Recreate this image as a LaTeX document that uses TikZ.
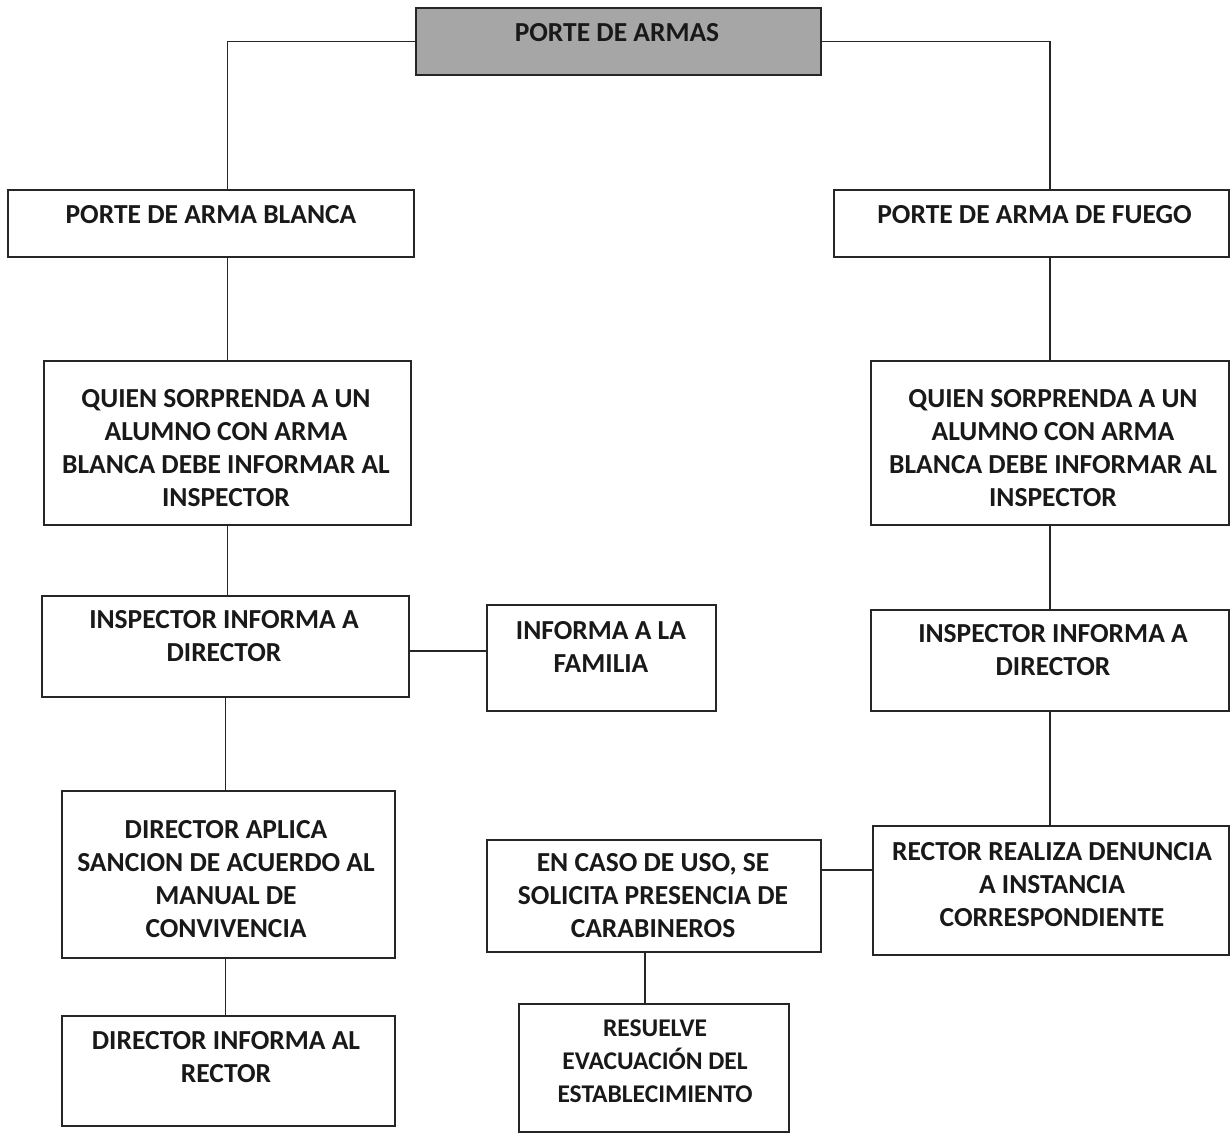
\documentclass[tikz,border=0pt]{standalone}
\usepackage{fontspec}
\setmainfont{Carlito}
\definecolor{boxgray}{HTML}{A6A6A6}
\definecolor{lin}{HTML}{262626}
\tikzset{
  box/.style={draw=lin, line width=1.6pt, rectangle, inner sep=0pt},
  txt/.style={align=center, font=\bfseries\fontsize{27.5}{33}\selectfont, inner sep=0pt, text=black!90},
  small/.style={align=center, font=\bfseries\fontsize{25.5}{33}\selectfont, inner sep=0pt, text=black!90},
  conn/.style={draw=lin, line width=1.6pt}
}
\begin{document}
\begin{tikzpicture}[x=1pt,y=-1pt]
\useasboundingbox[fill=white] (0,0) rectangle (1230,1134);
% boxes
\node[box, fill=boxgray, minimum width=405pt, minimum height=67pt] (top) at (618.5,41.5) {};
\node[box, minimum width=406pt, minimum height=67pt] (blanca) at (211,223.5) {};
\node[box, minimum width=395pt, minimum height=67pt] (fuego) at (1031.5,223.5) {};
\node[box, minimum width=367pt, minimum height=164pt] (quienL) at (227.5,443) {};
\node[box, minimum width=358pt, minimum height=164pt] (quienR) at (1050,443) {};
\node[box, minimum width=367pt, minimum height=101pt] (inspL) at (225.5,646.5) {};
\node[box, minimum width=229pt, minimum height=106pt] (fam) at (601.5,658) {};
\node[box, minimum width=358pt, minimum height=101pt] (inspR) at (1050,660.5) {};
\node[box, minimum width=333pt, minimum height=167pt] (dirA) at (228.5,874.5) {};
\node[box, minimum width=334pt, minimum height=112pt] (caso) at (654,896) {};
\node[box, minimum width=356pt, minimum height=129pt] (rector) at (1051,890.5) {};
\node[box, minimum width=333pt, minimum height=110pt] (dirI) at (228.5,1071) {};
\node[box, minimum width=270pt, minimum height=128pt] (resuelve) at (654,1068) {};
% texts
\node[txt] (ttop) at (617,33) {PORTE DE ARMAS};
\node[txt] (tblanca) at (211,215) {PORTE DE ARMA BLANCA};
\node[txt] (tfuego) at (1034.5,215) {PORTE DE ARMA DE FUEGO};
\node[txt] (tquienL) at (226,448.5) {QUIEN SORPRENDA A UN\\ALUMNO CON ARMA\\BLANCA DEBE INFORMAR AL\\INSPECTOR};
\node[txt] (tquienR) at (1053,448.5) {QUIEN SORPRENDA A UN\\ALUMNO CON ARMA\\BLANCA DEBE INFORMAR AL\\INSPECTOR};
\node[txt] (tinspL) at (224,636) {INSPECTOR INFORMA A\\DIRECTOR};
\node[txt] (tfam) at (601,647) {INFORMA A LA\\FAMILIA};
\node[txt] (tinspR) at (1053,650) {INSPECTOR INFORMA A\\DIRECTOR};
\node[txt] (tdirA) at (226,879.5) {DIRECTOR APLICA\\SANCION DE ACUERDO AL\\MANUAL DE\\CONVIVENCIA};
\node[txt] (tcaso) at (653,896) {EN CASO DE USO, SE\\SOLICITA PRESENCIA DE\\CARABINEROS};
\node[txt] (trector) at (1052,885) {RECTOR REALIZA DENUNCIA\\A INSTANCIA\\CORRESPONDIENTE};
\node[txt] (tdirI) at (226,1057.5) {DIRECTOR INFORMA AL\\RECTOR};
\node[small] (tres) at (655,1061) {RESUELVE\\EVACUACIÓN DEL\\ESTABLECIMIENTO};
% connectors
\draw[conn] (top.west) -| (quienL.north |- blanca.north);
\draw[conn] (top.east) -| (quienR.north |- fuego.north);
\draw[conn] (blanca.south -| quienL.north) -- (quienL.north);
\draw[conn] (quienL.south) -- (quienL.south |- inspL.north);
\draw[conn] (inspL.south) -- (inspL.south |- dirA.north);
\draw[conn] (dirA.south -| inspL.south) -- (dirI.north -| inspL.south);
\draw[conn] ([yshift=-4.5pt]inspL.east) -- ([yshift=-4.5pt]inspL.east -| fam.west);
\draw[conn] (fuego.south -| quienR.north) -- (quienR.north);
\draw[conn] (quienR.south) -- (inspR.north);
\draw[conn] (inspR.south) -- (inspR.south |- rector.north);
\draw[conn] ([yshift=20.5pt]rector.west) -- ([yshift=20.5pt]rector.west -| caso.east);
\draw[conn] ([xshift=-9pt]caso.south) -- ([xshift=-9pt]resuelve.north);
\end{tikzpicture}
\end{document}
